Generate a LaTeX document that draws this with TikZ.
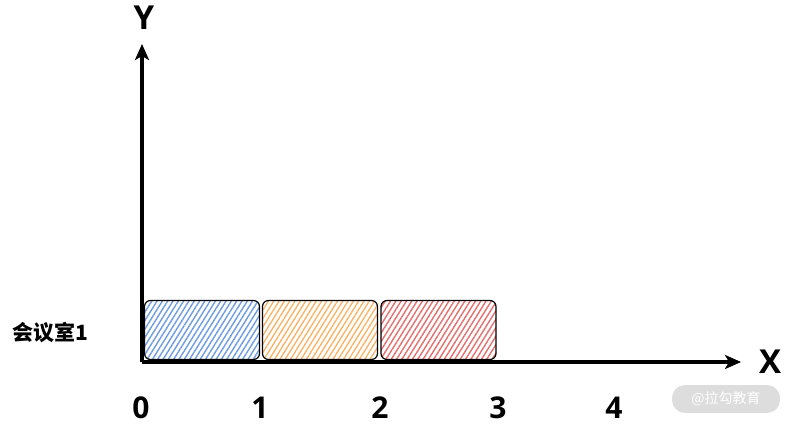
\documentclass[tikz,border=0pt]{standalone}
\usepackage{fontspec}
\setmainfont{Open Sans}
\newfontfamily\cjk{Noto Sans CJK SC}
\usetikzlibrary{arrows.meta,patterns.meta}
\definecolor{cblue}{HTML}{6F9BE0}
\definecolor{corange}{HTML}{F8B469}
\definecolor{cred}{HTML}{E56F6F}
\definecolor{wm}{HTML}{DDDDDD}
\tikzset{
  axis/.style={line width=4pt,-{Stealth[length=16pt,width=14pt,inset=4pt]}},
  slot/.style={draw=black,line width=1.2pt,rounded corners=6pt,minimum width=115pt,minimum height=59pt,inner sep=0pt},
  hatch/.style={pattern={Lines[angle=58,distance=4.5pt,line width=1.4pt]},pattern color=#1},
  tick/.style={font=\bfseries\fontsize{30}{30}\selectfont,inner sep=0pt},
  axlabel/.style={font=\bfseries\fontsize{33}{33}\selectfont,inner sep=0pt}
}
\begin{document}
\begin{tikzpicture}[x=1pt,y=-1pt]
\useasboundingbox (0,0) rectangle (792,425);
\coordinate (o) at (142,362);
\coordinate (yend) at (142,44);
\coordinate (xend) at (741,362);
\node[slot,hatch=cblue] (b1) at (202,330) {};
\node[slot,hatch=corange] (b2) at (320,330) {};
\node[slot,hatch=cred] (b3) at (438.5,330) {};
\draw[axis] (o) -- (yend);
\draw[axis] (o) -- (xend);
\node[axlabel] (ly) at (144,18) {Y};
\node[axlabel] (lx) at (770,362) {X};
\node[tick] (t0) at (141,408) {0};
\node[tick] (t1) at (260,408) {1};
\node[tick] (t2) at (380,408) {2};
\node[tick] (t3) at (498,408) {3};
\node[tick] (t4) at (614,408) {4};
\node[font=\cjk\bfseries\fontsize{21}{21}\selectfont,inner sep=0pt] (room) at (50,333) {会议室1};
\node[fill=wm,rounded corners=13pt,minimum width=108pt,minimum height=28pt,text=white,font=\cjk\fontsize{14}{14}\selectfont] (wmk) at (726,399) {@拉勾教育};
\end{tikzpicture}
\end{document}
